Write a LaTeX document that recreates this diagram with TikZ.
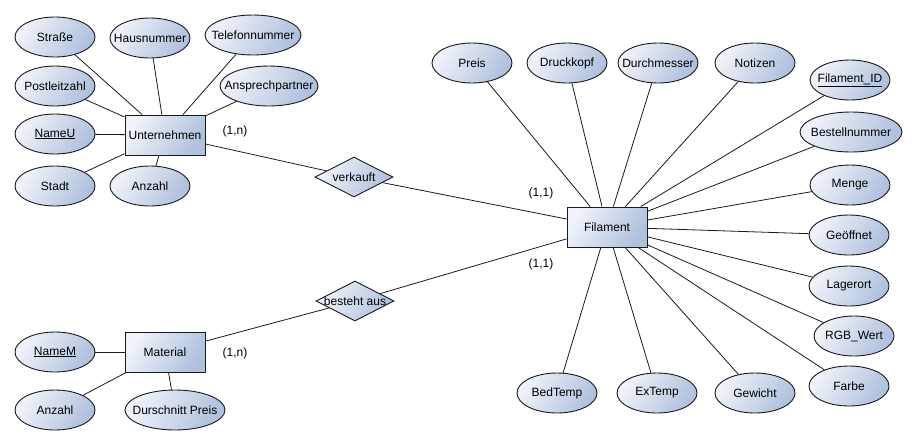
\documentclass[tikz,border=0pt]{standalone}
\usepackage{fontspec}
\setmainfont{Liberation Sans}
\usetikzlibrary{shapes.geometric}
\definecolor{lt}{HTML}{F0F3FA}
\definecolor{dk}{HTML}{AFC1DD}
\definecolor{ln}{HTML}{1A1A1A}
\newcommand{\zb}[1]{\makebox[0pt]{#1}}
\begin{document}
\begin{tikzpicture}[x=1pt,y=-1pt,font=\fontsize{12}{14}\selectfont,
  fillsh/.style={left color=lt,right color=dk,shading angle=60},
  attr/.style={ellipse,draw=ln,line width=0.9,fillsh,minimum width=80,minimum height=40,inner sep=0},
  wide/.style={minimum width=#1},
  ent/.style={rectangle,draw=ln,line width=0.9,fillsh,minimum width=80,minimum height=40,inner sep=0},
  rel/.style={diamond,draw=ln,line width=0.9,fillsh,minimum width=78,minimum height=40,inner sep=0},
  conn/.style={draw=ln,line width=0.8},
  card/.style={inner sep=1}]
\useasboundingbox (0,0) rectangle (915,445);

% Unternehmen
\node[ent] (U) at (165,135) {\zb{Unternehmen}};
\node[attr] (strasse) at (55,37) {\zb{Straße}};
\node[attr] (haus) at (150,38) {\zb{Hausnummer}};
\node[attr,wide=96] (tel) at (253,35) {\zb{Telefonnummer}};
\node[attr] (plz) at (55,86) {\zb{Postleitzahl}};
\node[attr,wide=98] (ansp) at (269,86) {\zb{Ansprechpartner}};
\node[attr] (nameu) at (55,134) {\zb{\underline{NameU}}};
\node[attr] (stadt) at (55,186) {\zb{Stadt}};
\node[attr] (anzu) at (150,186) {\zb{Anzahl}};

% Material
\node[ent] (M) at (165,352) {\zb{Material}};
\node[attr] (namem) at (55,352) {\zb{\underline{NameM}}};
\node[attr] (anzm) at (55,410) {\zb{Anzahl}};
\node[attr,wide=100] (dpreis) at (175,410) {\zb{Durschnitt Preis}};

% Relationships
\node[rel] (verk) at (354,177) {\zb{verkauft}};
\node[rel] (best) at (355,301) {\zb{besteht aus}};

% Filament
\node[ent] (F) at (607,227) {\zb{Filament}};
\node[attr] (preis) at (472,63) {\zb{Preis}};
\node[attr] (druck) at (567,63) {\zb{Druckkopf}};
\node[attr] (durch) at (658,63) {\zb{Durchmesser}};
\node[attr] (notiz) at (755,63) {\zb{Notizen}};
\node[attr] (fid) at (850,80) {\zb{\underline{Filament\_ID}}};
\node[attr,wide=102] (bestn) at (851,132) {\zb{Bestellnummer}};
\node[attr] (menge) at (850,185) {\zb{Menge}};
\node[attr] (geoff) at (849,235) {\zb{Geöffnet}};
\node[attr] (lager) at (849,286) {\zb{Lagerort}};
\node[attr] (rgb) at (854,336) {\zb{RGB\_Wert}};
\node[attr] (farbe) at (849,386) {\zb{Farbe}};
\node[attr] (bed) at (557,393) {\zb{BedTemp}};
\node[attr] (ext) at (657,393) {\zb{ExTemp}};
\node[attr] (gew) at (755,393) {\zb{Gewicht}};

% cardinalities
\node[card] (c1) at (235,131) {(1,n)};
\node[card] (c2) at (235,353) {(1,n)};
\node[card] (c3) at (541,193) {(1,1)};
\node[card] (c4) at (541,264) {(1,1)};

% connectors
\foreach \a in {strasse,haus,tel,plz,ansp,nameu,stadt,anzu}
  \draw[conn] (\a) -- (U);
\foreach \a in {namem,anzm,dpreis}
  \draw[conn] (\a) -- (M);
\foreach \a in {preis,druck,durch,notiz,fid,bestn,menge,geoff,lager,rgb,farbe,bed,ext,gew}
  \draw[conn] (\a) -- (F);
\draw[conn] (U) -- (verk);
\draw[conn] (verk) -- (F);
\draw[conn] (M) -- (best);
\draw[conn] (best) -- (F);
\end{tikzpicture}
\end{document}
